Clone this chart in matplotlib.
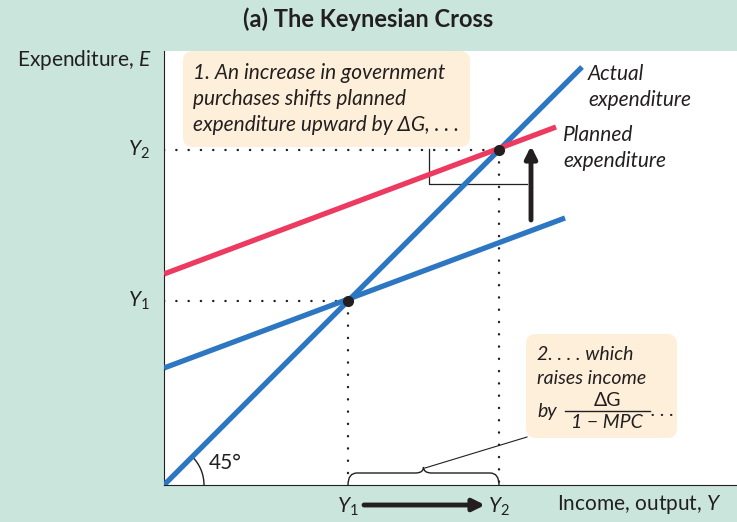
import matplotlib.pyplot as plt
from matplotlib.patches import FancyBboxPatch, Arc, PathPatch
from matplotlib.path import Path

plt.rcParams['font.family'] = ['Lato', 'DejaVu Sans']
plt.rcParams['mathtext.fontset'] = 'custom'
plt.rcParams['mathtext.rm'] = 'Lato'
plt.rcParams['mathtext.it'] = 'Lato:italic'
plt.rcParams['mathtext.bf'] = 'Lato:bold'

# 数据（单位与像素相同，便于对位）
actual_x = [0, 418]
actual_y = [0, 418]
planned_x = [0, 401]
planned_y = [117, 267]
planned_new_x = [0, 392]
planned_new_y = [211, 358]
y1, y2 = 184, 335

green = '#cae6dc'
blue = '#2c76c2'
red = '#ec3a60'
ink = '#231f20'
peach = '#fdefd9'
fs = 15

fig = plt.figure(figsize=(7.37, 5.22), dpi=100, facecolor=green)
ax = fig.add_axes([164 / 737, 37 / 522, 573 / 737, 434 / 522])
ax.set_xlim(0, 573)
ax.set_ylim(0, 434)
ax.set_facecolor('white')
ax.spines[['top', 'right']].set_visible(False)
ax.spines[['left', 'bottom']].set_color(ink)
ax.set_xticks([])
ax.set_yticks([])

# 虚线
dots = dict(color=ink, lw=1.7, linestyle=(0, (0.1, 5.1)), dash_capstyle='round', zorder=1)
for y in (y1, y2):
    ax.plot([0, y], [y, y], **dots)
    ax.plot([y, y], [y, 0], **dots)

# 三条线
ax.plot(actual_x, actual_y, color=blue, lw=3.8, solid_capstyle='butt', zorder=3)
ax.plot(planned_x, planned_y, color=blue, lw=3.8, solid_capstyle='butt', zorder=3)
ax.plot(planned_new_x, planned_new_y, color=red, lw=3.8, solid_capstyle='butt', zorder=3)
ax.plot([y1, y2], [y1, y2], 'o', color=ink, ms=7, zorder=4)

# 45度
ax.add_patch(Arc((0, 0), 80, 80, theta1=0, theta2=45, color=ink, lw=1))
ax.text(45, 22, '45°', fontsize=fs, color=ink, va='center')

# 标题与轴标签
ax.text(204, 466, '(a) The Keynesian Cross', fontsize=17, fontweight='bold',
        color=ink, ha='center', va='center')
ax.text(-12, 425, 'Expenditure, $E$', fontsize=fs, color=ink, ha='right', va='center')
ax.text(393, -20, 'Income, output, $Y$', fontsize=fs, color=ink, ha='left', va='center')
ax.text(-14, y2, '$Y_2$', fontsize=fs, color=ink, ha='right', va='center')
ax.text(-14, y1, '$Y_1$', fontsize=fs, color=ink, ha='right', va='center')
ax.text(y1, -22, '$Y_1$', fontsize=fs, color=ink, ha='center', va='center')
ax.text(y2, -22, '$Y_2$', fontsize=fs, color=ink, ha='center', va='center')
ax.annotate('', xy=(y2 - 14, -20), xytext=(y1 + 16, -20), annotation_clip=False,
            arrowprops=dict(arrowstyle='-|>,head_length=0.7,head_width=0.35',
                            color=ink, lw=3.5, shrinkA=0, shrinkB=0))

# 线条标签
ax.text(424, 411, 'Actual', fontsize=fs, style='italic', color=ink, va='center')
ax.text(424, 385, 'expenditure', fontsize=fs, style='italic', color=ink, va='center')
ax.text(399, 350, 'Planned', fontsize=fs, style='italic', color=ink, va='center')
ax.text(399, 324, 'expenditure', fontsize=fs, style='italic', color=ink, va='center')

# 注释框 1
ax.add_patch(FancyBboxPatch((25, 344), 281 - 6, 96 - 12, boxstyle='round,pad=6,rounding_size=10',
                            fc=peach, ec='none', zorder=2, clip_on=False))
lines1 = ['1. An increase in government', 'purchases shifts planned',
          'expenditure upward by ΔG, . . .']
for i, s in enumerate(lines1):
    ax.text(29, 412 - 26 * i, s, fontsize=fs, style='italic', color=ink, va='center', zorder=5)
ax.plot([265, 265, 363], [336, 301, 301], color=ink, lw=0.9, zorder=2)
ax.annotate('', xy=(367, 339), xytext=(367, 265),
            arrowprops=dict(arrowstyle='-|>,head_length=0.7,head_width=0.35',
                            color=ink, lw=3.5, shrinkA=0, shrinkB=0), zorder=5)

# 注释框 2
fs2 = 14
ax.add_patch(FancyBboxPatch((368, 53), 151 - 12, 104 - 12, boxstyle='round,pad=6,rounding_size=10',
                            fc=peach, ec='none', zorder=2))
ax.text(373, 130, '2. . . . which', fontsize=fs2, style='italic', color=ink, va='center', zorder=5)
ax.text(373, 107, 'raises income', fontsize=fs2, style='italic', color=ink, va='center', zorder=5)
ax.text(373, 74, 'by', fontsize=fs2, style='italic', color=ink, va='center', zorder=5)
ax.text(443, 84, 'ΔG', fontsize=fs2, color=ink, ha='center', va='center', zorder=5)
ax.plot([401, 486], [74, 74], color=ink, lw=1, zorder=5)
ax.text(443, 62, '1 − MPC', fontsize=fs2, style='italic', color=ink, ha='center', va='center', zorder=5)
ax.text(487, 74, '. . .', fontsize=fs2, style='italic', color=ink, va='center', zorder=5)
ax.plot([363, 261], [48, 17], color=ink, lw=0.8, zorder=2)

# 花括号
mid = (y1 + y2) / 2
verts = [(y1, 0), (y1, 12), (y1 + 9, 12), (mid - 8, 12), (mid, 12), (mid, 18),
         (mid, 12), (mid + 8, 12), (y2 - 9, 12), (y2, 12), (y2, 0)]
codes = [Path.MOVETO, Path.CURVE3, Path.CURVE3, Path.LINETO, Path.CURVE3, Path.CURVE3,
         Path.CURVE3, Path.CURVE3, Path.LINETO, Path.CURVE3, Path.CURVE3]
ax.add_patch(PathPatch(Path(verts, codes), fc='none', ec=ink, lw=1, zorder=2))

plt.savefig('out.png', dpi=100, facecolor=green)
